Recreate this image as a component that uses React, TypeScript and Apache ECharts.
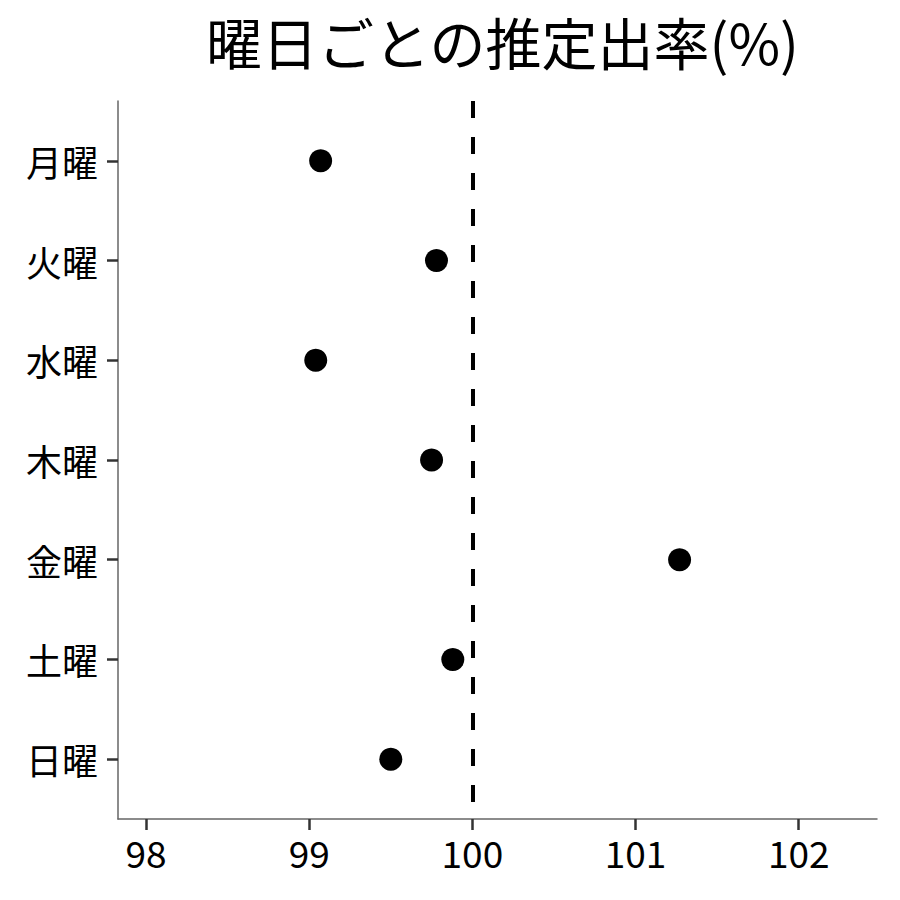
import React, { useEffect, useRef } from "react";
import * as echarts from "echarts";

// 曜日ごとの推定出率(%)
const DAYS = ["月曜", "火曜", "水曜", "木曜", "金曜", "土曜", "日曜"];
const RATES = [99.07, 99.78, 99.04, 99.75, 101.27, 99.88, 99.5];
const X_TICKS = [98, 99, 100, 101, 102];
const REF_LINE = 100;

const FONT = "'Noto Sans CJK JP', 'Noto Sans', sans-serif";

const App: React.FC = () => {
    const containerRef = useRef<HTMLDivElement | null>(null);

    useEffect(() => {
        document.body.style.margin = "0";
        if (!containerRef.current) return;
        const inst = echarts.init(containerRef.current, undefined, { renderer: "svg" });

        const yPos = DAYS.map((_, i) => i + 1);

        inst.setOption({
            animation: false,
            backgroundColor: "#ffffff",
            title: {
                text: "曜日ごとの推定出率(%)",
                left: 497.5,
                top: 7,
                textAlign: "center",
                textStyle: { fontFamily: FONT, fontSize: 56, fontWeight: "normal", color: "#000" },
            },
            grid: { left: 118, right: 23, top: 101, bottom: 81, containLabel: false },
            xAxis: {
                type: "value",
                min: 97.828,
                max: 102.48,
                splitLine: { show: false },
                axisLine: { show: true, lineStyle: { color: "#666", width: 1.5 } },
                axisTick: {
                    show: true,
                    customValues: X_TICKS,
                    length: 11,
                    lineStyle: { color: "#333", width: 2.5 },
                },
                axisLabel: {
                    customValues: X_TICKS,
                    margin: 14,
                    color: "#000",
                    fontFamily: FONT,
                    fontSize: 37,
                },
            },
            yAxis: {
                type: "value",
                inverse: true,
                min: 0.4,
                max: 7.6,
                splitLine: { show: false },
                axisLine: { show: true, lineStyle: { color: "#666", width: 1.5 } },
                axisTick: {
                    show: true,
                    customValues: yPos,
                    length: 11,
                    lineStyle: { color: "#333", width: 2.5 },
                },
                axisLabel: {
                    customValues: yPos,
                    margin: 20,
                    color: "#000",
                    fontFamily: FONT,
                    fontSize: 36,
                    formatter: (v: number) => DAYS[Math.round(v) - 1] ?? "",
                },
            },
            series: [
                {
                    type: "scatter",
                    data: RATES.map((r, i) => [r, i + 1]),
                    symbolSize: 23,
                    itemStyle: { color: "#000", opacity: 1 },
                    markLine: {
                        silent: true,
                        symbol: "none",
                        label: { show: false },
                        lineStyle: { color: "#000", width: 4, type: [17, 19] },
                        data: [{ xAxis: REF_LINE }],
                    },
                },
            ],
        });

        return () => {
            inst.dispose();
        };
    }, []);

    return <div ref={containerRef} style={{ width: 900, height: 900 }} />;
};

export default App;
